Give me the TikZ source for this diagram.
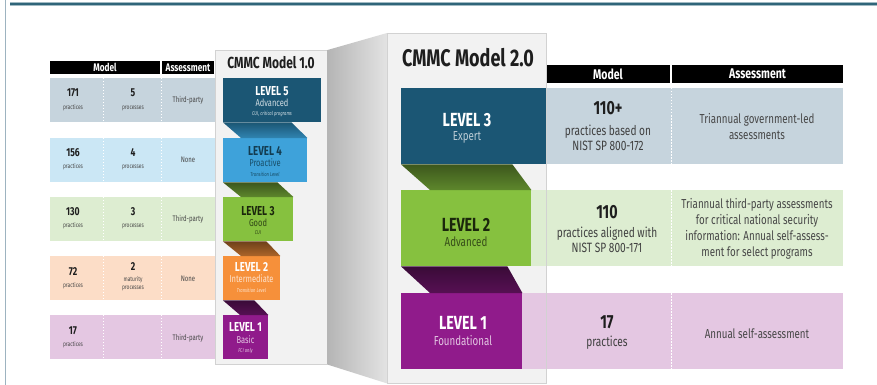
\documentclass[tikz,border=0pt]{standalone}
\usepackage{fontspec}
\setmainfont{Fira Sans}[FakeStretch=0.75]
\usetikzlibrary{calc}

\definecolor{navy}{HTML}{1B5674}
\definecolor{sky}{HTML}{3EA2DA}
\definecolor{leaf}{HTML}{86C13F}
\definecolor{tangerine}{HTML}{F6903A}
\definecolor{plum}{HTML}{901B8B}
\definecolor{rowgrey}{HTML}{C6D4DD}
\definecolor{rowblue}{HTML}{CBE7F5}
\definecolor{rowgreen}{HTML}{DDEDD1}
\definecolor{rowpeach}{HTML}{FCDDC7}
\definecolor{rowplum}{HTML}{E4C7E2}
\definecolor{panel}{HTML}{F2F2F2}
\definecolor{panelrule}{HTML}{D2D2D2}
\definecolor{ink}{HTML}{1E1E1E}
\definecolor{inkgrey}{HTML}{474747}
\definecolor{frameteal}{HTML}{2F6579}
\definecolor{frameline}{HTML}{9DB3C0}

\begin{document}
\begin{tikzpicture}[x=1pt,y=-1pt,
    every node/.style={inner sep=0pt,align=center},
    hdr/.style={fill=black,text=white,font=\bfseries\fontsize{11}{11}\selectfont,minimum height=13},
    hdrwide/.style={fill=black,text=white,font=\bfseries\fontsize{14}{14}\selectfont,minimum height=18},
    band/.style={minimum width=165,minimum height=44},
    tier/.style={anchor=north west,minimum height=76},
    divider/.style={white,line width=0.6pt,dash pattern=on 1.5pt off 1.5pt},
    num/.style={text=ink,font=\bfseries\fontsize{11.5}{11.5}\selectfont},
    unit/.style={text=inkgrey,font=\fontsize{6.5}{7}\selectfont},
    audit/.style={text=inkgrey,font=\fontsize{8}{8}\selectfont},
    lvbox/.style={anchor=north west,minimum height=44},
    lvname/.style={font=\bfseries\fontsize{13}{13}\selectfont},
    lvsub/.style={font=\fontsize{10}{10}\selectfont},
    lvnote/.style={font=\itshape\fontsize{5.5}{5.5}\selectfont},
    tiername/.style={font=\bfseries\fontsize{19}{19}\selectfont},
    tiersub/.style={font=\fontsize{13}{13}\selectfont},
    bignum/.style={text=ink,font=\bfseries\fontsize{19}{19}\selectfont},
    detail/.style={text=ink!85,font=\fontsize{13.5}{15}\selectfont},
    review/.style={text=inkgrey,font=\fontsize{13}{16}\selectfont}]

    \fill[white] (0,0) rectangle (877,385);
    \useasboundingbox (0,0) rectangle (877,385);
    \draw[frameline,line width=0.8pt] (5,0) -- (5,385);
    \draw[frameteal!45,line width=3.5pt] (10,4) -- (877,4);
    \draw[frameteal,line width=1.6pt] (10,4) -- (877,4);

    \node[hdr,minimum width=110] (hmodel) at (105,67.5) {Model};
    \node[hdr,minimum width=52] (haudit) at (188,67.5) {Assessment};
    \node[band,fill=rowgrey] (row5) at (132.5,100) {};
    \node[band,fill=rowblue] (row4) at (132.5,160) {};
    \node[band,fill=rowgreen] (row3) at (132.5,219) {};
    \node[band,fill=rowpeach] (row2) at (132.5,278) {};
    \node[band,fill=rowplum] (row1) at (132.5,337) {};
    \foreach \r in {row1,row2,row3,row4,row5}{
        \draw[divider] ($(\r.north west)+(53,0)$) -- ($(\r.south west)+(53,0)$);
        \draw[divider] ($(\r.north west)+(111,0)$) -- ($(\r.south west)+(111,0)$);
    }

    \node[num] (pr5) at (73,93) {171};
    \node[unit] (pr5u) at (73,108) {practices};
    \node[num] (pc5) at (133,93) {5};
    \node[unit] (pc5u) at (133,108) {processes};
    \node[audit] (au5) at (188,100) {Third-party};
    \node[num] (pr4) at (73,153) {156};
    \node[unit] (pr4u) at (73,167) {practices};
    \node[num] (pc4) at (133,153) {4};
    \node[unit] (pc4u) at (133,167) {processes};
    \node[audit] (au4) at (188,160) {None};
    \node[num] (pr3) at (73,212) {130};
    \node[unit] (pr3u) at (73,226) {practices};
    \node[num] (pc3) at (133,212) {3};
    \node[unit] (pc3u) at (133,226) {processes};
    \node[audit] (au3) at (188,219) {Third-party};
    \node[num] (pr2) at (73,272) {72};
    \node[unit] (pr2u) at (73,286) {practices};
    \node[num] (pc2) at (133,267) {2};
    \node[unit] (pc2u) at (133,280) {maturity};
    \node[unit] (pc2v) at (133,288) {processes};
    \node[audit] (au2) at (188,279) {None};
    \node[num] (pr1) at (73,331) {17};
    \node[unit] (pr1u) at (73,345) {practices};
    \node[audit] (au1) at (188,338) {Third-party};

    \node[anchor=north west,fill=panel,draw=panelrule,line width=0.6pt,minimum width=112,minimum height=314] (model1) at (215,50) {};
    \node[anchor=north west,fill=panel,minimum width=159,minimum height=350] (model2) at (387,33) {};
    \shade[left color=gray!58,right color=gray!22] (model1.north east) -- (model2.north west) -- (model2.south west) -- (model1.south east) -- cycle;
    \node[text=ink,font=\bfseries\fontsize{16}{16}\selectfont] (title1) at (271,63) {CMMC Model 1.0};
    \node[text=ink,font=\bfseries\fontsize{24}{24}\selectfont] (title2) at (468,58) {CMMC Model 2.0};

    \node[lvbox,fill=navy,minimum width=98] (lv5) at (223,78) {};
    \node[lvbox,fill=sky,minimum width=84] (lv4) at (223,138) {};
    \node[lvbox,fill=leaf,minimum width=70] (lv3) at (223,197) {};
    \node[lvbox,fill=tangerine,minimum width=57] (lv2) at (223,256) {};
    \node[lvbox,fill=plum,minimum width=45] (lv1) at (223,315) {};
    \shade[top color=navy,bottom color=sky!60!navy] (lv5.south west) -- ($(lv4.north east |- lv5.south)+(-16,0)$) -- (lv4.north east) -- ($(lv4.north west)+(18,0)$) -- cycle;
    \shade[top color=leaf!45!black,bottom color=leaf!70!black] (lv4.south west) -- ($(lv3.north east |- lv4.south)+(-16,0)$) -- (lv3.north east) -- ($(lv3.north west)+(18,0)$) -- cycle;
    \shade[top color=tangerine!45!black,bottom color=tangerine!70!black] (lv3.south west) -- ($(lv2.north east |- lv3.south)+(-14,0)$) -- (lv2.north east) -- ($(lv2.north west)+(18,0)$) -- cycle;
    \shade[top color=plum!40!black,bottom color=plum!60!black] (lv2.south west) -- ($(lv1.north east |- lv2.south)+(-14,0)$) -- (lv1.north east) -- ($(lv1.north west)+(17,0)$) -- cycle;

    \node[lvname,text=white] (lv5n) at (272,91) {LEVEL 5};
    \node[lvsub,text=navy!20] (lv5s) at (272,103) {Advanced};
    \node[lvnote,text=navy!20] (lv5c) at (272,114) {CUI, critical programs};
    \node[lvname,text=navy!70!black] (lv4n) at (265,151) {LEVEL 4};
    \node[lvsub,text=navy!90!black] (lv4s) at (265,163) {Proactive};
    \node[lvnote,text=navy!90!black] (lv4c) at (265,174) {Transition Level};
    \node[lvname,text=leaf!20!black] (lv3n) at (258,211) {LEVEL 3};
    \node[lvsub,text=leaf!35!black] (lv3s) at (258,223) {Good};
    \node[lvnote,text=leaf!35!black] (lv3c) at (258,233) {CUI};
    \node[lvname,text=white] (lv2n) at (251.5,267) {LEVEL 2};
    \node[lvsub,text=tangerine!25] (lv2s) at (251.5,279) {Intermediate};
    \node[lvnote,text=tangerine!25] (lv2c) at (251.5,290) {Transition Level};
    \node[lvname,text=white] (lv1n) at (245.5,327) {LEVEL 1};
    \node[lvsub,text=plum!25] (lv1s) at (245.5,340) {Basic};
    \node[lvnote,text=plum!25] (lv1c) at (245.5,351) {FCI only};

    \node[hdrwide,minimum width=124] (hmodel2) at (608,74) {Model};
    \node[hdrwide,minimum width=171] (haudit2) at (757.5,74) {Assessment};
    \node[tier,fill=rowgrey,minimum width=297] (band3) at (546,88) {};
    \node[tier,fill=rowgreen,minimum width=312] (band2) at (531,190) {};
    \node[tier,fill=rowplum,minimum width=321] (band1) at (522,293) {};
    \foreach \r in {band1,band2,band3}
        \draw[divider] ($(\r.north east)+(-172,0)$) -- ($(\r.south east)+(-172,0)$);

    \node[tier,fill=navy,minimum width=145] (tier3) at (401,88) {};
    \node[tier,fill=leaf,minimum width=130] (tier2) at (401,190) {};
    \node[tier,fill=plum,minimum width=121] (tier1) at (401,293) {};
    \shade[top color=leaf!45!black,bottom color=leaf!70!black] (tier3.south west) -- ($(tier2.north east |- tier3.south)+(-19,0)$) -- (tier2.north east) -- ($(tier2.north west)+(29,0)$) -- cycle;
    \shade[top color=plum!40!black,bottom color=plum!60!black] (tier2.south west) -- ($(tier1.north east |- tier2.south)+(-15,0)$) -- (tier1.north east) -- ($(tier1.north west)+(29,0)$) -- cycle;
    \draw[panelrule,line width=0.6pt] (model2.north west) rectangle (model2.south east);

    \node[tiername,text=white] (tier3n) at (467,120) {LEVEL 3};
    \node[tiersub,text=navy!30] (tier3s) at (467,137) {Expert};
    \node[tiername,text=leaf!20!black] (tier2n) at (466,225) {LEVEL 2};
    \node[tiersub,text=leaf!40!black] (tier2s) at (466,242) {Advanced};
    \node[tiername,text=white] (tier1n) at (463,323) {LEVEL 1};
    \node[tiersub,text=plum!25] (tier1s) at (463,341) {Foundational};

    \node[bignum] (req3) at (608,108) {110+};
    \node[detail] (req3d) at (608,138) {practices based on\\NIST SP 800-172};
    \node[review] (rv3) at (757,127) {Triannual government-led\\assessments};
    \node[bignum] (req2) at (607,212) {110};
    \node[detail] (req2d) at (607,240) {practices aligned with\\NIST SP 800-171};
    \node[review] (rv2) at (757,229) {Triannual third-party assessments\\for critical national security\\information: Annual self-assess-\\ment for select programs};
    \node[bignum] (req1) at (607,322) {17};
    \node[detail] (req1d) at (607,343) {practices};
    \node[review] (rv1) at (757,334) {Annual self-assessment};
\end{tikzpicture}
\end{document}
